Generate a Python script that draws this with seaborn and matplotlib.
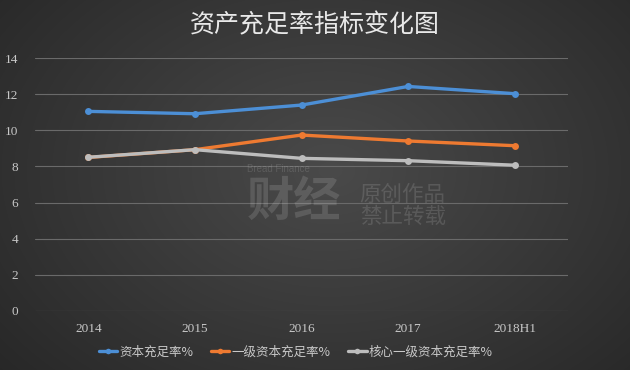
import numpy as np
import pandas as pd
import matplotlib
matplotlib.use("Agg")
import matplotlib.pyplot as plt
import seaborn as sns
from matplotlib.lines import Line2D

categories = ["2014", "2015", "2016", "2017", "2018H1"]
car = [11.05, 10.92, 11.40, 12.43, 12.03]
tier1 = [8.50, 8.93, 9.74, 9.41, 9.15]
core_tier1 = [8.51, 8.93, 8.45, 8.32, 8.07]
series_names = ["资本充足率%", "一级资本充足率%", "核心一级资本充足率%"]
yticks = [0, 2, 4, 6, 8, 10, 12, 14]
title = "资产充足率指标变化图"

df = pd.DataFrame({
    "year": categories * 3,
    "value": car + tier1 + core_tier1,
    "series": [series_names[0]] * 5 + [series_names[1]] * 5 + [series_names[2]] * 5,
})

sns.set_theme(style="dark")
plt.rcParams['font.family'] = ['Noto Sans CJK SC', 'DejaVu Sans']

fig = plt.figure(figsize=(6.3, 3.7), dpi=100)

# background gradient
bg = fig.add_axes([0, 0, 1, 1], zorder=-10)
yy, xx = np.mgrid[0:370, 0:630]
r = np.sqrt(((xx - 330) / 420.0) ** 2 + ((yy - 170) / 300.0) ** 2)
shade = np.clip(0.29 - 0.13 * r, 0.15, 0.3)
bg.imshow(np.dstack([shade, shade, shade]), aspect="auto", extent=[0, 1, 0, 1])
bg.axis("off")

ax = fig.add_axes([0.0556, 0.1595, 0.8460, 0.6835])
ax.patch.set_alpha(0)

palette = {series_names[0]: "#4C8FD6", series_names[1]: "#EE7A31", series_names[2]: "#BDBDBD"}
sns.lineplot(data=df, x="year", y="value", hue="series", palette=palette,
             marker="o", markersize=5, markeredgewidth=0, linewidth=2.4,
             sort=False, ax=ax, legend=False)

ax.set_xlim(-0.5, 4.5)
ax.set_ylim(0, 14)
ax.set_yticks(yticks)
ax.set_yticklabels([str(t) for t in yticks])
ax.set_xlabel("")
ax.set_ylabel("")
for s in ax.spines.values():
    s.set_visible(False)
ax.grid(axis="y", color="#6a6a6a", linewidth=0.8)
ax.grid(axis="x", visible=False)
ax.tick_params(axis="both", length=0, colors="#c8c8c8", labelsize=9.5)
ax.tick_params(axis="y", pad=12)
ax.tick_params(axis="x", pad=9)
for lab in ax.get_xticklabels() + ax.get_yticklabels():
    lab.set_family(["Liberation Serif", "DejaVu Serif"])

# faint watermark
wm = dict(color="white", alpha=0.13)
fig.text(0.392, 0.543, "Bread Finance", fontsize=7, va="center",
         family=["Liberation Sans"], **wm)
fig.text(0.392, 0.455, "财经", fontsize=34, fontweight="bold", va="center", **wm)
fig.text(0.571, 0.473, "原创作品", fontsize=15.5, va="center", **wm)
fig.text(0.571, 0.413, "禁止转载", fontsize=15.5, va="center", **wm)

fig.text(0.5, 0.932, title, ha="center", va="center", color="#e8e8e8", fontsize=18)

handles = [Line2D([0], [0], color=palette[n], marker="o", markersize=4, linewidth=2.4,
                  markeredgewidth=0) for n in series_names]
leg = fig.legend(handles, series_names, loc="center", bbox_to_anchor=(0.469, 0.049), ncol=3,
                 frameon=False, fontsize=9, handlelength=1.5, handletextpad=0.15,
                 columnspacing=1.4, labelcolor="#c8c8c8")

fig.savefig("out.png", dpi=100)
